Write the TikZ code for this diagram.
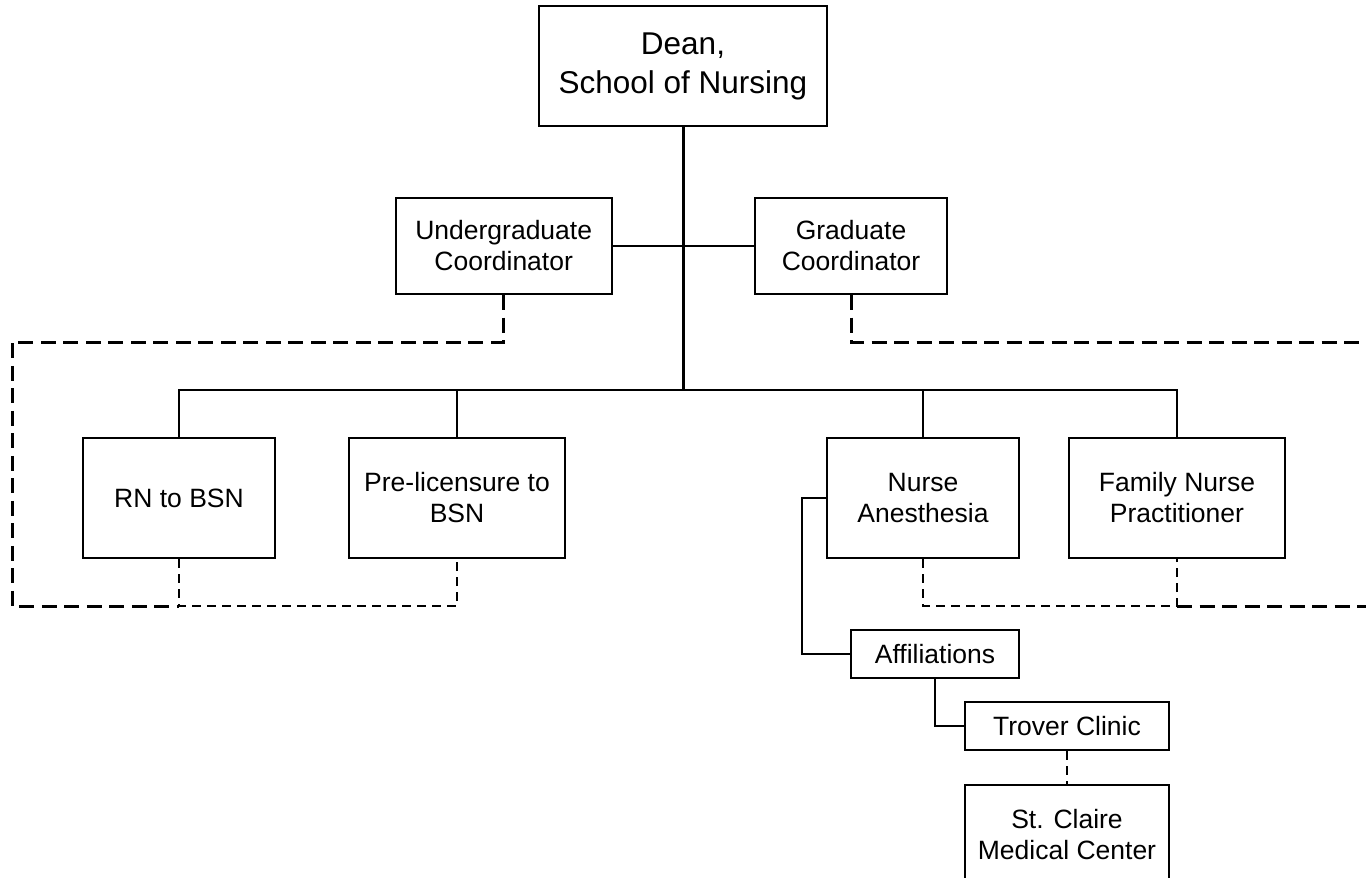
\documentclass[tikz,border=0pt]{standalone}
\usepackage{fontspec}
\setmainfont{Liberation Sans}
\usepackage{tikz}
\usetikzlibrary{positioning}

\begin{document}
\begin{tikzpicture}[x=1pt,y=-1pt,
		office/.style={draw=black,line width=2pt,align=center,inner sep=0pt,
			font=\fontsize{26.5}{31}\selectfont},
		link/.style={line width=2pt},
		tie/.style={line width=3pt,dash pattern=on 15pt off 7.5pt},
		subtie/.style={line width=1.8pt,dash pattern=on 9pt off 6pt}]

	\clip (0,0) rectangle (1366,878);

	\node[office,minimum width=288pt,minimum height=120pt,font=\fontsize{31.5}{39}\selectfont] (dean) at (683,66) {Dean,\\School of Nursing};
	\node[office,minimum width=216pt,minimum height=96pt] (ugc) at (503.7,246) {Undergraduate\\Coordinator};
	\node[office,minimum width=192pt,minimum height=96pt] (gc) at (851,246) {Graduate\\Coordinator};

	\node[office,minimum width=192pt,minimum height=120pt] (rn) at (179,498) {RN to BSN};
	\node[office,minimum width=216pt,minimum height=120pt] (pre) [right=72pt of rn] {Pre-licensure to\\BSN};
	\node[office,minimum width=192pt,minimum height=120pt] (na) at (923,498) {Nurse\\Anesthesia};
	\node[office,minimum width=216pt,minimum height=120pt] (fnp) [right=48pt of na] {Family Nurse\\Practitioner};

	\node[office,minimum width=168pt,minimum height=48pt] (aff) at (935,654) {Affiliations};
	\node[office,minimum width=204pt,minimum height=48pt] (trover) at (1067,726) {Trover Clinic};
	\node[office,minimum width=204pt,minimum height=100pt] (stc) [below=33pt of trover] {St. Claire\\Medical Center};

	\coordinate (bus) at (683,390);
	\coordinate (ltop) at (12,342);
	\coordinate (lbot) at (12,606);
	\coordinate (rtop) at (1366,342);
	\coordinate (rbot) at (1366,606);

	% reporting lines
	\draw[line width=3pt] (dean.south) -- (bus);
	\draw[link] (ugc.east) -- (gc.west);
	\draw[link] (rn.north) |- (bus) -| (fnp.north);
	\draw[link] (pre.north) -- (pre.north |- bus);
	\draw[link] (na.north) -- (na.north |- bus);
	\draw[link] (na.west) -- ([xshift=-24pt]na.west) |- (aff.west);
	\draw[link] (aff.south) |- (trover.west);

	% coordination
	\draw[tie] (ugc.south) |- (ltop) -- (lbot) -- (rn.south |- lbot);
	\draw[subtie] (rn.south) -- (rn.south |- lbot) -- (pre.south |- lbot) -- (pre.south);
	\draw[tie] (gc.south) |- (rtop);
	\draw[subtie] (na.south) |- (fnp.south |- rbot) -- (fnp.south);
	\draw[tie] (fnp.south |- rbot) -- (rbot);
	\draw[subtie] (trover.south) -- (stc.north);
\end{tikzpicture}
\end{document}
